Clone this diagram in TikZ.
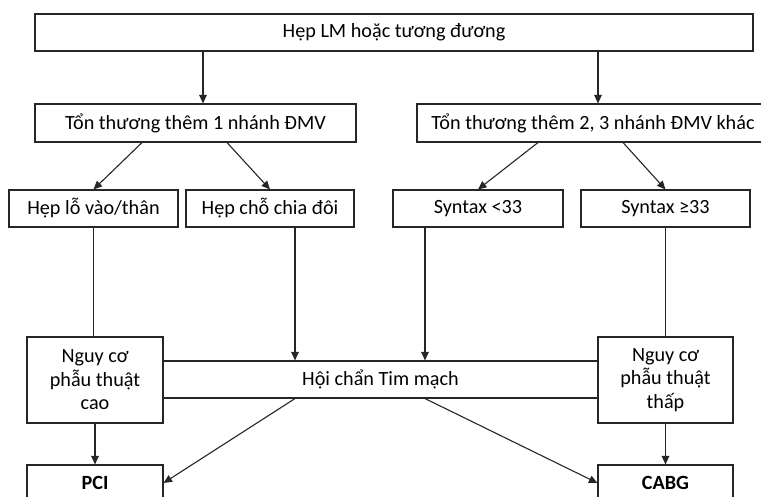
\documentclass[tikz,border=0pt]{standalone}
\usepackage{fontspec}
\setmainfont{Carlito}
\usetikzlibrary{arrows.meta}
\begin{document}
\begin{tikzpicture}[x=1pt,y=-1pt,
  box/.style={draw=black!85, line width=1.1pt, rectangle, inner sep=0pt, align=center,
    font=\fontsize{20.2}{23.5}\selectfont},
  bbox/.style={box, font=\fontsize{20.2}{23.5}\selectfont\bfseries},
  arr/.style={line width=1.1pt, draw=black!85, -{Triangle[length=8.5pt,width=7.5pt]}},
  ln/.style={line width=1.1pt, draw=black!85}]
\clip (0,0) rectangle (761,497);
\fill[white] (0,0) rectangle (761,497);
% level 1
\node[box, minimum width=718pt, minimum height=37pt] (top) at (394,32.5) {Hẹp LM hoặc tương đương};
% level 2
\node[box, minimum width=321pt, minimum height=38pt] (b1) at (195.5,123) {Tổn thương thêm 1 nhánh ĐMV};
\node[box, minimum width=352pt, minimum height=38pt] (b2) at (593,123) {Tổn thương thêm 2, 3 nhánh ĐMV khác};
% level 3
\node[box, minimum width=169pt, minimum height=37pt] (l1) at (93.5,208.5) {Hẹp lỗ vào/thân};
\node[box, minimum width=168pt, minimum height=37pt] (l2) at (270,208.5) {Hẹp chỗ chia đôi};
\node[box, minimum width=170pt, minimum height=37pt] (l3) at (478,208.5) {Syntax <33};
\node[box, minimum width=169pt, minimum height=37pt] (l4) at (665.5,208.5) {Syntax ≥33};
% level 4
\node[box, minimum width=136pt, minimum height=86pt] (n1) at (95,380) {Nguy cơ\\phẫu thuật\\cao};
\node[box, minimum width=135pt, minimum height=86pt] (n2) at (665.5,380) {Nguy cơ\\phẫu thuật\\thấp};
\node[box, minimum width=435pt, minimum height=37pt] (hc) at (380.5,379.5) {Hội chẩn Tim mạch};
% level 5
\node[bbox, minimum width=136pt, minimum height=36pt] (pci) at (95,483) {PCI};
\node[bbox, minimum width=135pt, minimum height=36pt] (cabg) at (665.5,483) {CABG};
% helper x positions
\coordinate (xa) at (203,0);
\coordinate (xb) at (598,0);
\coordinate (xc) at (142,0);
\coordinate (xd) at (227,0);
\coordinate (xe) at (538,0);
\coordinate (xf) at (623,0);
\coordinate (xg) at (295,0);
\coordinate (xh) at (425,0);
% connectors
\draw[arr] (top.south -| xa) -- (b1.north -| xa);
\draw[arr] (top.south -| xb) -- (b2.north -| xb);
\draw[arr] (b1.south -| xc) -- (l1.north);
\draw[arr] (b1.south -| xd) -- (l2.north);
\draw[arr] (b2.south -| xe) -- (l3.north);
\draw[arr] (b2.south -| xf) -- (l4.north);
\draw[ln] (l1.south) -- (l1.south |- n1.north);
\draw[ln] (l4.south) -- (l4.south |- n2.north);
\draw[arr] (l2.south -| xg) -- (hc.north -| xg);
\draw[arr] (l3.south -| xh) -- (hc.north -| xh);
\draw[arr] (n1.south) -- (pci.north);
\draw[arr] (n2.south) -- (cabg.north);
\draw[arr] (hc.south -| xg) -- (pci.east);
\draw[arr] (hc.south -| xh) -- (cabg.west);
\end{tikzpicture}
\end{document}
